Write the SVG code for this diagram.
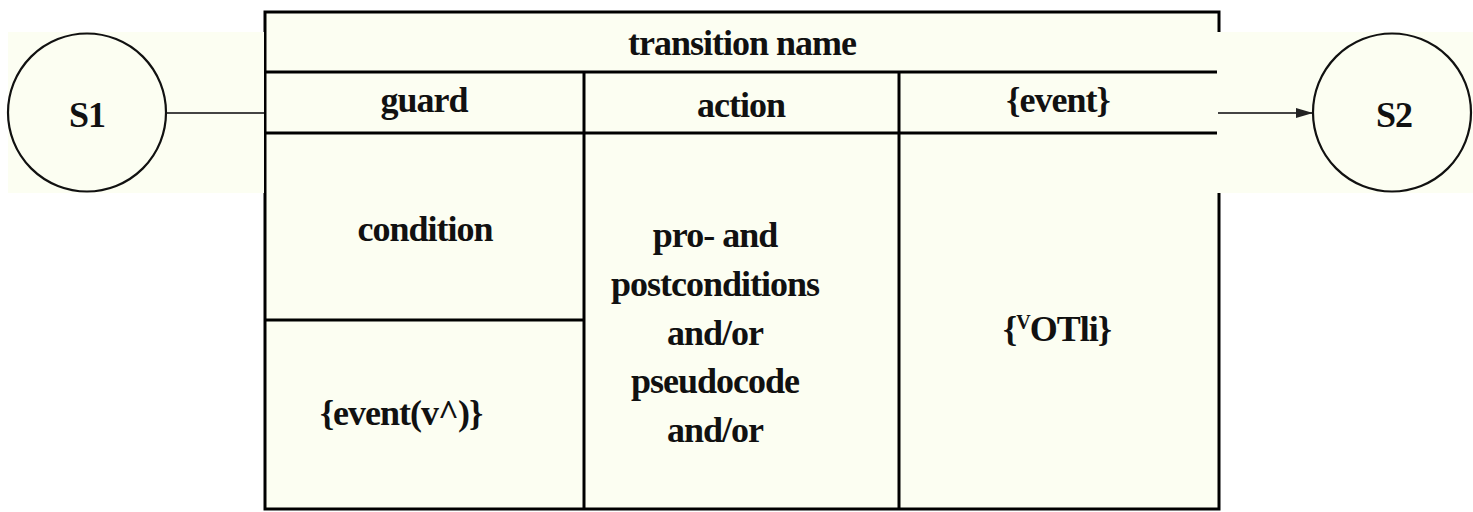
<svg xmlns="http://www.w3.org/2000/svg" width="1473" height="512" viewBox="0 0 1473 512">
<style>
.cream{fill:#fcfef2}
.grid{stroke:#000;stroke-width:3;fill:none}
.t{font-family:'Liberation Serif','DejaVu Serif',serif;font-weight:700;font-size:36px;letter-spacing:-1px;fill:#111;text-anchor:middle}
.st{stroke:#111;stroke-width:2.2;fill:#fcfef2}
.conn{stroke:#444;stroke-width:2.2;fill:none}
</style>
<defs>
<marker id="arr" markerWidth="18" markerHeight="12" refX="17" refY="6" orient="auto" markerUnits="userSpaceOnUse">
<path d="M0,1 L17,6 L0,11 Z" fill="#222"/>
</marker>
</defs>
<rect width="1473" height="512" fill="#fff"/>
<g id="transition" font-family="Liberation Serif, DejaVu Serif, serif">
<rect class="cream" x="265" y="12" width="954" height="497"/>
<rect class="grid" x="265" y="12" width="954" height="497"/>
<line class="grid" x1="265" y1="72" x2="1219" y2="72"/>
<line class="grid" x1="265" y1="133" x2="1219" y2="133"/>
<line class="grid" x1="584" y1="72" x2="584" y2="509"/>
<line class="grid" x1="899" y1="72" x2="899" y2="509"/>
<line class="grid" x1="265" y1="320" x2="584" y2="320"/>
<text class="t" x="742" y="55">transition name</text>
<text class="t" x="424" y="112">guard</text>
<text class="t" x="741" y="117">action</text>
<text class="t" x="1058" y="112">{event}</text>
<text class="t" x="425" y="241">condition</text>
<text class="t" x="401" y="425">{event(v^)}</text>
<text class="t" x="715" y="247">pro- and</text>
<text class="t" x="715" y="296">postconditions</text>
<text class="t" x="715" y="345">and/or</text>
<text class="t" x="715" y="393">pseudocode</text>
<text class="t" x="715" y="442">and/or</text>
<text class="t" x="1057" y="341">{<tspan font-size="20" dy="-12">V</tspan><tspan dy="12">OTli}</tspan></text>
</g>
<rect class="cream" x="8" y="32" width="256" height="161"/>
<rect class="cream" x="1217" y="32" width="256" height="161"/>
<g id="connectors">
<line class="conn" x1="167" y1="113" x2="264" y2="113"/>
<line class="conn" x1="1218" y1="113" x2="1313" y2="113" marker-end="url(#arr)"/>
</g>
<g id="S1">
<circle class="st" cx="87" cy="112.5" r="79"/>
<text class="t" x="87" y="127" letter-spacing="-2">S1</text>
</g>
<g id="S2">
<circle class="st" cx="1392" cy="112.5" r="79"/>
<text class="t" x="1394" y="127" letter-spacing="-1">S2</text>
</g>
</svg>
